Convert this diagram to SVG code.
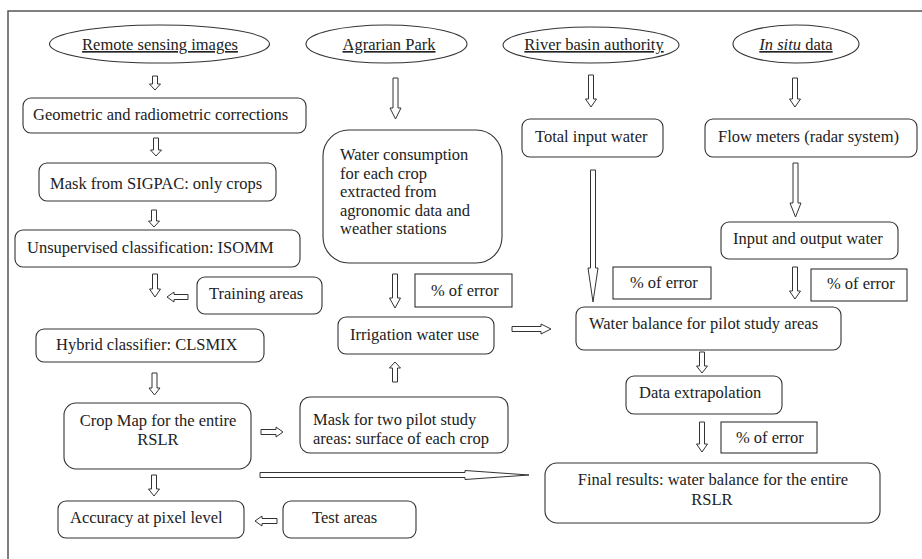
<svg xmlns="http://www.w3.org/2000/svg" width="922" height="559" viewBox="0 0 922 559">
<style>
text{font-family:'Liberation Serif','Times New Roman','DejaVu Serif',serif;font-size:16.5px;fill:#222}
.b{fill:#fff;stroke:#333;stroke-width:1.1}
.e{fill:#fff;stroke:#333;stroke-width:1.1}
.u{text-decoration:underline}
.m{text-anchor:middle}
.a{fill:#fff;stroke:#333;stroke-width:1}
.f{fill:none;stroke:#555;stroke-width:1.5}
</style>
<rect width="922" height="559" fill="#fff"/>
<path class="f" d="M922,11 H8 V559"/>
<g font-family="Liberation Serif, Times New Roman, serif">
<g id="n-remote"><ellipse class="e" cx="159.5" cy="44" rx="110" ry="19"/><text class="m u" x="160" y="50">Remote sensing images</text></g>
<g id="n-agrarian"><ellipse class="e" cx="386.5" cy="44" rx="80.5" ry="19"/><text class="m u" x="389" y="50">Agrarian Park</text></g>
<g id="n-river"><ellipse class="e" cx="591" cy="45" rx="88" ry="18"/><text class="m u" x="594" y="50">River basin authority</text></g>
<g id="n-insitu"><ellipse class="e" cx="796" cy="44" rx="63" ry="19"/><text class="m u" x="796" y="50"><tspan font-style="italic">In situ</tspan> data</text></g>

<g id="n-geom"><rect class="b" x="23" y="98" width="283" height="35" rx="8"/><text x="33" y="120">Geometric and radiometric corrections</text></g>
<g id="n-mask"><rect class="b" x="39" y="163" width="237" height="38" rx="8"/><text x="50" y="189">Mask from SIGPAC: only crops</text></g>
<g id="n-unsup"><rect class="b" x="15" y="230" width="285" height="37" rx="8"/><text x="27" y="253">Unsupervised classification: ISOMM</text></g>
<g id="n-training"><rect class="b" x="197" y="277" width="125" height="37" rx="8"/><text x="209" y="299">Training areas</text></g>
<g id="n-hybrid"><rect class="b" x="36" y="329" width="228" height="33" rx="8"/><text x="56" y="350">Hybrid classifier: CLSMIX</text></g>
<g id="n-cropmap"><rect class="b" x="64" y="403" width="187" height="66" rx="12"/><text class="m" x="158" y="426">Crop Map for the entire</text><text class="m" x="158" y="445">RSLR</text></g>
<g id="n-accuracy"><rect class="b" x="58" y="501" width="186" height="37" rx="8"/><text x="70" y="523">Accuracy at pixel level</text></g>
<g id="n-test"><rect class="b" x="283" y="501" width="133" height="37" rx="8"/><text x="312" y="523">Test areas</text></g>
<g id="n-mask2"><rect class="b" x="300" y="397" width="208" height="56" rx="10"/><text x="313" y="425">Mask for two pilot study</text><text x="313" y="444">areas: surface of each crop</text></g>
<g id="n-waterc"><rect class="b" x="323" y="130" width="179" height="133" rx="26"/><text x="340" y="160">Water consumption</text><text x="340" y="178.5">for each crop</text><text x="340" y="197">extracted from</text><text x="340" y="215.5">agronomic data and</text><text x="340" y="234">weather stations</text></g>
<g id="n-err1"><rect class="b" x="415" y="274" width="97" height="33" rx="0"/><text x="431" y="296">% of error</text></g>
<g id="n-irrig"><rect class="b" x="338" y="317" width="156" height="37" rx="8"/><text x="350" y="340">Irrigation water use</text></g>
<g id="n-total"><rect class="b" x="522" y="119" width="141" height="38" rx="8"/><text x="535" y="142">Total input water</text></g>
<g id="n-flow"><rect class="b" x="705" y="119" width="212" height="38" rx="8"/><text x="718" y="142">Flow meters (radar system)</text></g>
<g id="n-inout"><rect class="b" x="721" y="222" width="177" height="37" rx="8"/><text x="733" y="244">Input and output water</text></g>
<g id="n-err2"><rect class="b" x="613" y="267" width="98" height="32" rx="0"/><text x="630" y="288">% of error</text></g>
<g id="n-err3"><rect class="b" x="811" y="269" width="96" height="32" rx="0"/><text x="827" y="289">% of error</text></g>
<g id="n-balance"><rect class="b" x="576" y="307" width="265" height="43" rx="8"/><text x="589" y="329">Water balance for pilot study areas</text></g>
<g id="n-extrap"><rect class="b" x="626" y="376" width="156" height="38" rx="8"/><text x="639" y="398">Data extrapolation</text></g>
<g id="n-err4"><rect class="b" x="721" y="422" width="96" height="31" rx="0"/><text x="736" y="443">% of error</text></g>
<g id="n-final"><rect class="b" x="545" y="463" width="335" height="60" rx="12"/><text class="m" x="713" y="485">Final results: water balance for the entire</text><text class="m" x="712" y="505">RSLR</text></g>
</g>
<g id="connectors">
<path class="a" d="M152.5,76 H157.5 V84 H160.5 L155,90 L149.5,84 H152.5 Z"/>
<path class="a" d="M153.5,138 H158.5 V150 H161.5 L156,156 L150.5,150 H153.5 Z"/>
<path class="a" d="M151.5,210 H156.5 V221 H159.5 L154,227 L148.5,221 H151.5 Z"/>
<path class="a" d="M152.5,274 H157.5 V289 H160.5 L155,297 L149.5,289 H152.5 Z"/>
<path class="a" d="M188,294.5 V299.5 H174 V302 L167,297 L174,292 V294.5 Z"/>
<path class="a" d="M152,373 H157 V388 H160 L154.5,395 L149,388 H152 Z"/>
<path class="a" d="M151.5,475 H156.5 V489 H159.5 L154,496 L148.5,489 H151.5 Z"/>
<path class="a" d="M277,518.5 V523.5 H262 V526 L255,521 L262,516 V518.5 Z"/>
<path class="a" d="M261,429.5 V434.5 H276 V437 L283,432 L276,427 V429.5 Z"/>
<path class="a" d="M260,472.5 V477.5 H465 V479.5 L529,475 L465,470.5 V472.5 Z"/>
<path class="a" d="M392.5,382 H397.5 V368 H400.5 L395,362 L389.5,368 H392.5 Z"/>
<path class="a" d="M393,78 H398 V108 H401 L395.5,119 L390,108 H393 Z"/>
<path class="a" d="M392.5,274 H397.5 V298 H400.5 L395,308 L389.5,298 H392.5 Z"/>
<path class="a" d="M512,326.5 V331.5 H541 V334 L551,329 L541,324 V326.5 Z"/>
<path class="a" d="M588.5,75 H593.5 V99 H596.5 L591,107 L585.5,99 H588.5 Z"/>
<path class="a" d="M590.5,170 H595.5 V268 H598 L593,302 L588,268 H590.5 Z"/>
<path class="a" d="M792.5,78 H797.5 V99 H800.5 L795,107 L789.5,99 H792.5 Z"/>
<path class="a" d="M793,163 H798 V203 H801 L795.5,217 L790,203 H793 Z"/>
<path class="a" d="M792.5,267 H797.5 V291 H800.5 L795,299 L789.5,291 H792.5 Z"/>
<path class="a" d="M699.5,352 H704.5 V366 H707.5 L702,373 L696.5,366 H699.5 Z"/>
<path class="a" d="M699.5,422 H704.5 V444 H707.5 L702,452 L696.5,444 H699.5 Z"/>
</g>
</svg>
